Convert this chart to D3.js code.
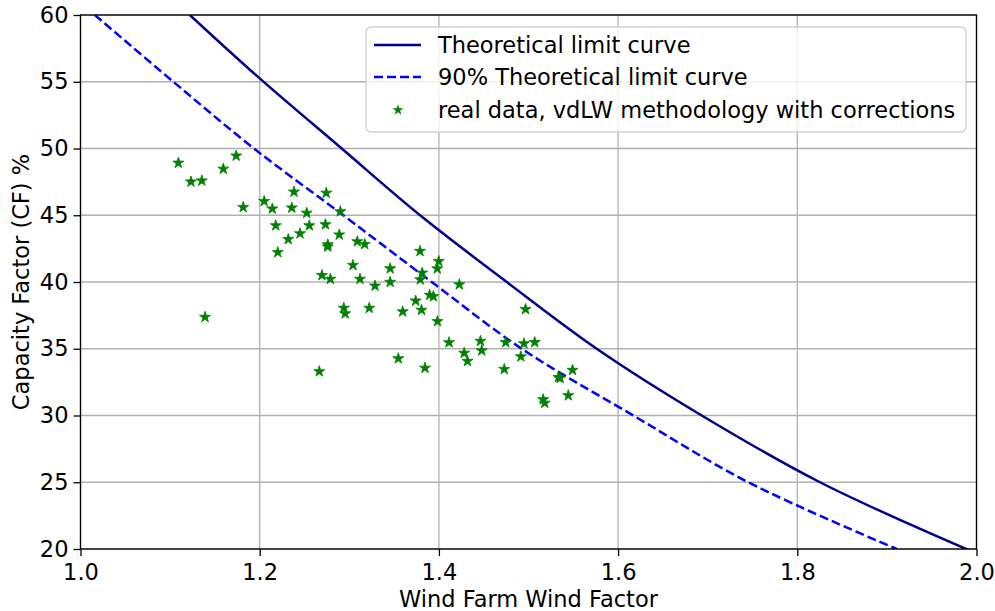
<!DOCTYPE html>
<html><head><meta charset="utf-8">
<script src="https://cdn.jsdelivr.net/npm/d3@7"></script>
<style>body{margin:0;background:#fff;} svg{display:block;font-family:"DejaVu Sans",sans-serif;}</style>
</head><body>
<svg id="chart" width="995" height="611"></svg>
<script>
// Theoretical limit curve
const theoX = [1.122, 1.20, 1.2915, 1.379, 1.4757, 1.5761, 1.6933, 1.8253, 1.991];
const theoY = [60, 55.25, 50, 45, 40, 35, 30, 25, 19.93];
// 90% theoretical limit curve
const t90X = [1.016, 1.1036, 1.1936, 1.2933, 1.392, 1.4924, 1.617, 1.7453, 1.911];
const t90Y = [60, 55, 50, 45, 40, 35, 30, 25, 20];
// Real data
const realX = [1.1092,1.1233,1.1354,1.1594,1.1738,1.1816,1.2050,1.2141,1.2383,1.2358,1.2525,1.2743,1.2900,1.2179,1.2319,1.2450,1.2554,1.2734,1.2888,1.3089,1.3172,1.2760,1.2760,1.2202,1.3041,1.2695,1.2789,1.3119,1.3287,1.3456,1.3456,1.3789,1.3998,1.3982,1.3814,1.3792,1.4228,1.3897,1.3938,1.3741,1.3596,1.3806,1.3984,1.3223,1.2939,1.2954,1.3547,1.3845,1.2665,1.1390,1.4967,1.4113,1.4464,1.4478,1.4282,1.4319,1.4746,1.4949,1.5069,1.4915,1.4730,1.5491,1.5334,1.5354,1.5444,1.5164,1.5181];
const realY = [48.92,47.51,47.59,48.47,49.45,45.60,46.05,45.49,46.75,45.56,45.17,46.67,45.28,44.23,43.20,43.63,44.23,44.31,43.54,43.03,42.83,42.80,42.64,42.22,41.26,40.50,40.22,40.22,39.71,41.01,39.99,42.31,41.55,41.00,40.68,40.18,39.81,39.02,38.92,38.59,37.78,37.90,37.05,38.05,38.05,37.63,34.27,33.56,33.30,37.37,37.96,35.47,35.57,34.86,34.68,34.07,35.48,35.39,35.48,34.41,33.47,33.40,32.86,32.80,31.50,31.20,30.94];
const xTicks = [1.0, 1.2, 1.4, 1.6, 1.8, 2.0];
const yTicks = [20, 25, 30, 35, 40, 45, 50, 55, 60];
const legendLabels = ["Theoretical limit curve", "90% Theoretical limit curve", "real data, vdLW methodology with corrections"];

const svg = d3.select("#chart");
const L = 80.5, R = 976.5, T = 15, B = 549;
const x = d3.scaleLinear().domain([1.0, 2.0]).range([L, R]);
const y = d3.scaleLinear().domain([20, 60]).range([B, T]);
const FS = 22.5;

// grid
const g = svg.append("g");
g.selectAll(".gx").data(xTicks).enter().append("line")
  .attr("x1", d => x(d)).attr("x2", d => x(d)).attr("y1", T).attr("y2", B)
  .attr("stroke", "#b0b0b0").attr("stroke-width", 1.3);
g.selectAll(".gy").data(yTicks).enter().append("line")
  .attr("y1", d => y(d)).attr("y2", d => y(d)).attr("x1", L).attr("x2", R)
  .attr("stroke", "#b0b0b0").attr("stroke-width", 1.3);

svg.append("defs").append("clipPath").attr("id", "clip")
  .append("rect").attr("x", L).attr("y", T).attr("width", R - L).attr("height", B - T);

const plot = svg.append("g").attr("clip-path", "url(#clip)");
const line = d3.line().x(d => x(d[0])).y(d => y(d[1])).curve(d3.curveCatmullRom.alpha(0.5));
plot.append("path").datum(d3.zip(theoX, theoY)).attr("d", line)
  .attr("fill", "none").attr("stroke", "#00008b").attr("stroke-width", 2.5);
plot.append("path").datum(d3.zip(t90X, t90Y)).attr("d", line)
  .attr("fill", "none").attr("stroke", "#0000ff").attr("stroke-width", 2.5)
  .attr("stroke-dasharray", "9,4");

const star = d3.symbol().type(d3.symbolStar).size(38);
plot.selectAll(".pt").data(d3.zip(realX, realY)).enter().append("path")
  .attr("d", star).attr("transform", d => `translate(${x(d[0])},${y(d[1])})`)
  .attr("fill", "#008000").attr("stroke", "#008000").attr("stroke-width", 0.8);

// axes
const xAxis = d3.axisBottom(x).tickValues(xTicks).tickFormat(d3.format(".1f")).tickSizeOuter(0).tickSize(7).tickPadding(8);
const yAxis = d3.axisLeft(y).tickValues(yTicks).tickFormat(d3.format("d")).tickSizeOuter(0).tickSize(7).tickPadding(5);
const gx = svg.append("g").attr("transform", `translate(0,${B})`).call(xAxis);
const gy = svg.append("g").attr("transform", `translate(${L},0)`).call(yAxis);
[gx, gy].forEach(a => {
  a.select(".domain").remove();
  a.selectAll("text").attr("font-size", FS).attr("font-family", "DejaVu Sans").attr("fill", "#000");
  a.selectAll("line").attr("stroke", "#000").attr("stroke-width", 1.3);
});
svg.append("rect").attr("x", L).attr("y", T).attr("width", R - L).attr("height", B - T)
  .attr("fill", "none").attr("stroke", "#000").attr("stroke-width", 1.3);

// labels
svg.append("text").attr("x", (L + R) / 2).attr("y", 607).attr("text-anchor", "middle")
  .attr("font-size", FS).text("Wind Farm Wind Factor");
svg.append("text").attr("transform", `translate(29,${(T + B) / 2}) rotate(-90)`).attr("text-anchor", "middle")
  .attr("font-size", FS).text("Capacity Factor (CF) %");

// legend
const lg = svg.append("g");
lg.append("rect").attr("x", 366).attr("y", 27).attr("width", 600).attr("height", 105).attr("rx", 5)
  .attr("fill", "#fff").attr("fill-opacity", 0.8).attr("stroke", "#d0d0d0").attr("stroke-width", 1.3);
const rows = [45, 77, 110];
legendLabels.forEach((t, i) => {
  const yy = rows[i];
  if (i === 0) lg.append("line").attr("x1", 374).attr("x2", 421).attr("y1", yy).attr("y2", yy).attr("stroke", "#00008b").attr("stroke-width", 2.5);
  if (i === 1) lg.append("line").attr("x1", 374).attr("x2", 421).attr("y1", yy).attr("y2", yy).attr("stroke", "#0000ff").attr("stroke-width", 2.5).attr("stroke-dasharray", "9,4");
  if (i === 2) lg.append("path").attr("d", d3.symbol().type(d3.symbolStar).size(38)()).attr("transform", `translate(398,${yy})`).attr("fill", "#008000");
  lg.append("text").attr("x", 438).attr("y", yy).attr("dy", "0.35em").attr("font-size", FS).text(t);
});
</script>
</body></html>
